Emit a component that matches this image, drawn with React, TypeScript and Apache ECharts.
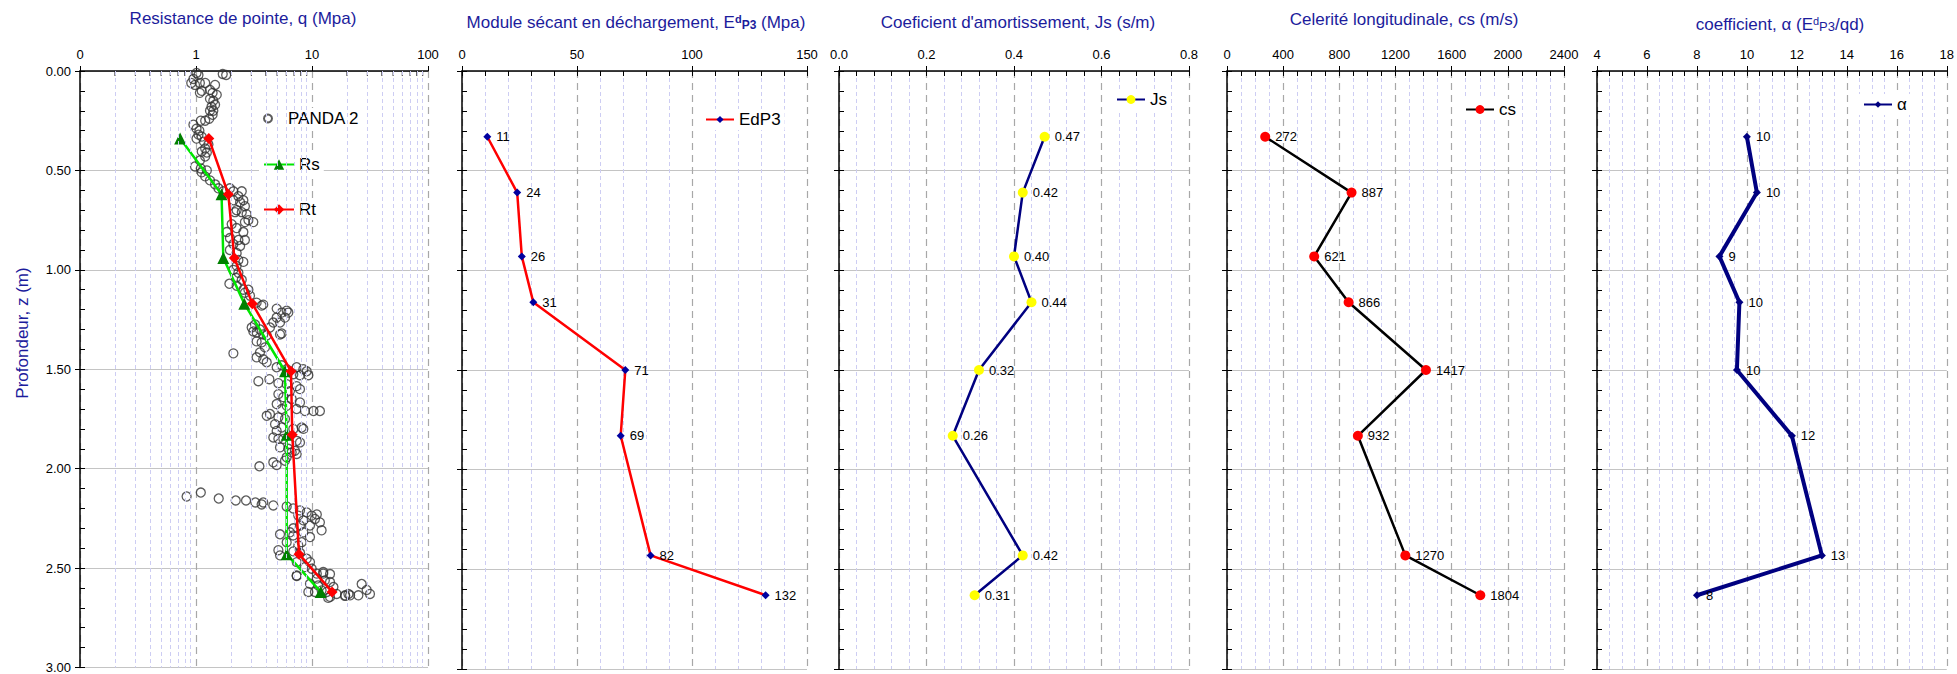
import React, { useEffect, useRef } from "react";
import * as echarts from "echarts";

const FONT = '"Liberation Sans", Arial, Helvetica, sans-serif';
const NAVY = "#1c1c9c";

// depths (m) of the dynamic-test points
const depths = [0.33, 0.61, 0.93, 1.16, 1.5, 1.83, 2.43, 2.63];
const rDepths = [0.34, 0.62, 0.94, 1.17, 1.51, 1.83, 2.43, 2.62];
const rsValues = [0.73, 1.66, 1.72, 2.61, 5.85, 6.05, 6.05, 11.9];
const rtValues = [1.29, 1.9, 2.14, 3.06, 6.59, 6.76, 7.73, 14.9];
const edp3Values = [11, 24, 26, 31, 71, 69, 82, 132];
const jsValues = [0.47, 0.42, 0.4, 0.44, 0.32, 0.26, 0.42, 0.31];
const csValues = [272, 887, 621, 866, 1417, 932, 1270, 1804];
const alphaValues = [10.0, 10.4, 8.9, 9.7, 9.6, 11.8, 13.0, 8.0];

const logMinorTicks = [0.2, 0.3, 0.4, 0.5, 0.6, 0.7, 0.8, 0.9, 2, 3, 4, 5, 6, 7, 8, 9, 20, 30, 40, 50, 60, 70, 80, 90];

// PANDA 2 penetrometer record: [q (MPa), z (m)]
const panda2: [number, number][] = [
  [1.01, 0.01], [1.05, 0.02], [1.7, 0.015], [1.82, 0.02], [0.95, 0.04], [0.91, 0.06], [0.98, 0.07], [1.08, 0.06], [1.2, 0.06], [1.46, 0.07],
  [1.32, 0.095], [1.12, 0.1], [1.39, 0.11], [1.51, 0.12], [1.08, 0.11], [1.32, 0.14], [1.41, 0.15], [1.46, 0.17], [1.36, 0.18], [1.41, 0.2],
  [1.32, 0.2], [1.39, 0.22], [1.3, 0.24], [1.2, 0.25], [1.1, 0.25], [0.95, 0.27], [1.01, 0.29], [1.07, 0.3], [1.05, 0.32], [1.12, 0.33],
  [1.01, 0.34], [1.17, 0.355], [1.28, 0.37], [1.2, 0.39], [1.12, 0.405], [1.24, 0.41], [1.2, 0.43], [1.08, 0.45], [0.98, 0.48], [1.1, 0.49],
  [1.24, 0.5], [1.12, 0.51], [1.2, 0.53], [1.32, 0.55], [1.46, 0.57], [1.56, 0.59], [1.72, 0.605], [1.96, 0.59], [2.1, 0.605], [2.48, 0.605],
  [2.32, 0.63], [2.56, 0.65], [2.1, 0.65], [2.4, 0.66], [2.64, 0.68], [2.24, 0.7], [2.17, 0.71], [2.48, 0.71], [2.73, 0.72], [2.83, 0.75],
  [2.64, 0.76], [3.12, 0.76], [2.03, 0.77], [2.24, 0.79], [2.56, 0.81], [1.84, 0.81], [1.96, 0.84], [2.32, 0.85], [2.64, 0.85], [2.1, 0.87],
  [2.4, 0.88], [1.96, 0.9], [2.24, 0.915], [2.32, 0.95], [2.56, 0.96], [2.24, 0.98], [2.1, 1.0], [2.32, 1.015], [1.94, 1.07], [2.21, 1.04],
  [2.48, 1.05], [2.24, 1.08], [2.56, 1.1], [2.64, 1.115], [2.83, 1.1], [2.92, 1.13], [3.33, 1.165], [3.68, 1.18], [3.8, 1.175], [4.96, 1.195],
  [5.48, 1.215], [6.05, 1.205], [5.85, 1.24], [4.96, 1.24], [5.3, 1.265], [6.25, 1.215], [3.23, 1.275], [3.02, 1.29], [3.56, 1.3], [4.34, 1.29],
  [3.33, 1.315], [4.07, 1.33], [5.3, 1.325], [4.64, 1.265],
  [3.12, 1.31], [3.8, 1.325], [5.48, 1.32], [3.33, 1.36], [3.68, 1.365], [3.93, 1.39], [2.1, 1.42], [3.56, 1.415], [3.33, 1.44], [3.8, 1.45],
  [4.07, 1.465], [4.96, 1.49], [5.48, 1.48], [6.05, 1.5], [7.38, 1.49], [8.42, 1.5], [9.0, 1.51], [9.3, 1.53], [7.88, 1.53], [6.9, 1.525],
  [3.45, 1.56], [4.29, 1.55], [5.13, 1.57], [6.05, 1.575], [7.38, 1.585], [7.88, 1.6], [6.46, 1.61], [5.13, 1.625], [5.66, 1.64], [6.68, 1.65],
  [7.88, 1.667], [8.7, 1.71], [10.3, 1.71], [11.7, 1.71], [7.38, 1.7], [6.05, 1.684], [4.96, 1.675], [5.48, 1.7], [4.07, 1.734], [4.34, 1.725],
  [5.13, 1.742], [5.85, 1.75], [4.8, 1.776], [5.48, 1.793], [8.42, 1.8], [8.15, 1.793], [6.9, 1.8], [4.96, 1.81], [4.64, 1.843], [5.13, 1.85],
  [5.66, 1.85], [6.46, 1.876], [7.38, 1.86], [7.88, 1.868], [5.3, 1.893], [6.25, 1.9], [7.13, 1.91], [6.05, 1.943], [6.68, 1.918], [7.38, 1.926],
  [4.64, 1.968], [3.52, 1.988], [4.96, 1.982], [5.85, 1.96],
  [0.83, 2.14], [1.1, 2.12], [1.57, 2.15], [2.2, 2.16], [2.7, 2.16], [3.25, 2.17], [3.68, 2.18], [3.8, 2.17], [4.64, 2.185], [6.05, 2.19],
  [6.9, 2.2], [7.88, 2.21], [9.0, 2.22], [11.0, 2.23],
  [7.62, 2.236], [8.42, 2.26], [9.94, 2.236], [10.6, 2.253], [11.7, 2.27], [9.61, 2.286], [7.88, 2.286], [6.9, 2.3], [12.1, 2.31], [6.46, 2.32],
  [8.42, 2.32], [5.3, 2.33], [6.9, 2.336], [9.61, 2.344], [8.15, 2.37], [6.05, 2.37], [7.62, 2.386], [5.13, 2.41], [6.9, 2.416], [7.88, 2.423],
  [5.3, 2.436], [9.0, 2.453], [7.38, 2.47], [9.61, 2.47], [8.7, 2.495], [9.94, 2.503], [7.38, 2.537], [11.0, 2.528], [12.5, 2.528], [11.0, 2.553],
  [12.9, 2.562], [9.61, 2.579], [11.3, 2.587], [14.3, 2.57], [15.3, 2.595], [13.4, 2.62], [12.1, 2.612], [10.6, 2.62], [16.3, 2.63], [14.3, 2.645],
  [19.3, 2.637], [20.6, 2.63], [21.3, 2.637], [25.1, 2.637], [26.8, 2.58], [29.6, 2.61], [31.6, 2.63], [13.8, 2.65], [9.3, 2.62], [7.38, 2.54],
  [19.3, 2.64], [12.5, 2.52], [14.3, 2.53]
];

const grids = [
  { left: 80, top: 71, width: 348, height: 598 },
  { left: 462, top: 71, width: 345, height: 598 },
  { left: 839, top: 71, width: 350, height: 598 },
  { left: 1227, top: 71, width: 337, height: 598 },
  { left: 1597, top: 71, width: 352, height: 598 },
];

function buildOption() {
  const axisLineStyle = { color: "#000", width: 1.5 };
  const tickStyle = { color: "#000", width: 1 };
  const majorGrid = { show: true, lineStyle: { color: "#a8a8a8", width: 1.2, type: [7, 5] } };
  const minorGrid = { show: true, lineStyle: { color: "#cdcdf3", width: 1, type: [4, 3] } };
  const tickLabel = { fontSize: 13, color: "#000", fontFamily: FONT, margin: 10 };

  const xAxes: any[] = [];
  const yAxes: any[] = [];

  // panel 1: log axis
  xAxes.push({
    gridIndex: 0, type: "log", logBase: 10, min: 0.1, max: 100, position: "top",
    axisLine: { show: true, onZero: false, lineStyle: axisLineStyle },
    axisTick: { show: true, length: 5, lineStyle: tickStyle },
    axisLabel: { ...tickLabel, formatter: (v: number) => (v < 1 ? "0" : String(Math.round(v))) },
    splitLine: majorGrid,
  });

  const valuePanel = (g: number, min: number, max: number, interval: number, minorSplit: number, fmt: (v: number) => string) => {
    const idx = xAxes.length;
    xAxes.push({
      gridIndex: g, type: "value", position: "top", min, max, interval,
      axisLine: { show: true, onZero: false, lineStyle: axisLineStyle },
      axisTick: { show: true, length: 5, lineStyle: tickStyle },
      axisLabel: { ...tickLabel, formatter: fmt },
      splitLine: majorGrid,
      minorTick: { show: false, splitNumber: minorSplit },
      minorSplitLine: minorGrid,
    });
    xAxes.push({
      gridIndex: g, type: "value", position: "top", min, max, interval: interval / minorSplit,
      axisLine: { show: false },
      axisTick: { show: true, inside: true, length: 5, lineStyle: tickStyle },
      axisLabel: { show: false },
      splitLine: { show: false },
    });
    return idx;
  };
  const x2 = valuePanel(1, 0, 150, 50, 5, (v) => String(v));
  const x3 = valuePanel(2, 0, 0.8, 0.2, 5, (v) => v.toFixed(1));
  const x4 = valuePanel(3, 0, 2400, 400, 4, (v) => String(v));
  const x5 = valuePanel(4, 4, 18, 2, 4, (v) => String(v));

  const yIdx: number[] = [];
  for (let g = 0; g < 5; g++) {
    yIdx.push(yAxes.length);
    yAxes.push({
      gridIndex: g, type: "value", min: 0, max: 3, interval: 0.5, inverse: true, position: "left",
      axisLine: { show: true, onZero: false, lineStyle: axisLineStyle },
      axisTick: { show: true, length: 5, lineStyle: tickStyle },
      axisLabel: { show: g === 0, fontSize: 13, color: "#000", fontFamily: FONT, margin: 9, formatter: (v: number) => v.toFixed(2) },
      splitLine: { show: true, lineStyle: { color: "#c4c4c4", width: 1.2 } },
    });
    yAxes.push({
      gridIndex: g, type: "value", min: 0, max: 3, interval: 0.1, inverse: true, position: "left",
      axisLine: { show: false },
      axisTick: { show: true, inside: true, length: 5, lineStyle: tickStyle },
      axisLabel: { show: false },
      splitLine: { show: false },
    });
  }

  const ptLabel = (fmt: (v: number) => string) => ({
    show: true, position: "right", distance: 5, fontSize: 13, color: "#000", fontFamily: FONT,
    formatter: (p: any) => fmt(p.value[0]),
  });

  const series: any[] = [
    {
      type: "scatter", name: "p1minor", xAxisIndex: 0, yAxisIndex: yIdx[0], silent: true, clip: false,
      data: logMinorTicks.map((v) => [v, 0]),
      symbol: "rect", symbolSize: [1, 5], symbolOffset: [0, 2.5], itemStyle: { color: "#000" }, z: 1,
      markLine: {
        silent: true, symbol: ["none", "none"], label: { show: false },
        lineStyle: { color: "#cdcdf3", width: 1, type: [4, 3] },
        data: logMinorTicks.map((v) => ({ xAxis: v })),
      },
    },
    {
      type: "scatter", name: "PANDA 2", xAxisIndex: 0, yAxisIndex: yIdx[0], data: panda2,
      symbol: "circle", symbolSize: 9,
      itemStyle: { color: "rgba(0,0,0,0)", borderColor: "#333", borderWidth: 1.3 }, z: 3,
    },
    {
      type: "line", name: "Rs", xAxisIndex: 0, yAxisIndex: yIdx[0],
      data: rDepths.map((z, i) => [rsValues[i], z]),
      symbol: "triangle", symbolSize: 12,
      lineStyle: { color: "#00e600", width: 2.5 }, itemStyle: { color: "#008000" }, z: 4,
    },
    {
      type: "line", name: "Rt", xAxisIndex: 0, yAxisIndex: yIdx[0],
      data: rDepths.map((z, i) => [rtValues[i], z]),
      symbol: "diamond", symbolSize: 11,
      lineStyle: { color: "#ff0000", width: 2.5 }, itemStyle: { color: "#ff0000" }, z: 5,
    },
    {
      type: "line", name: "EdP3", xAxisIndex: x2, yAxisIndex: yIdx[1],
      data: depths.map((z, i) => [edp3Values[i], z]),
      symbol: "diamond", symbolSize: 8,
      lineStyle: { color: "#ff0000", width: 2.5 }, itemStyle: { color: "#0000a0" },
      label: ptLabel((v) => String(Math.round(v))), z: 4,
    },
    {
      type: "line", name: "Js", xAxisIndex: x3, yAxisIndex: yIdx[2],
      data: depths.map((z, i) => [jsValues[i], z]),
      symbol: "circle", symbolSize: 10,
      lineStyle: { color: "#000080", width: 2.5 }, itemStyle: { color: "#ffff00" },
      label: ptLabel((v) => v.toFixed(2)), z: 4,
    },
    {
      type: "line", name: "cs", xAxisIndex: x4, yAxisIndex: yIdx[3],
      data: depths.map((z, i) => [csValues[i], z]),
      symbol: "circle", symbolSize: 10,
      lineStyle: { color: "#000000", width: 2.5 }, itemStyle: { color: "#ff0000" },
      label: ptLabel((v) => String(Math.round(v))), z: 4,
    },
    {
      type: "line", name: "α", xAxisIndex: x5, yAxisIndex: yIdx[4],
      data: depths.map((z, i) => [alphaValues[i], z]),
      symbol: "diamond", symbolSize: 8,
      lineStyle: { color: "#000080", width: 4 }, itemStyle: { color: "#000080" },
      label: ptLabel((v) => String(Math.round(v))), z: 4,
    },
  ];

  const leg = (name: string, left: number, top: number, itemWidth: number, itemHeight: number) => ({
    data: [name], left, top, itemWidth, itemHeight, orient: "vertical",
    backgroundColor: "#fff", padding: [2, 4], selectedMode: false,
    textStyle: { fontSize: 17, color: "#000", fontFamily: FONT },
  });

  const legends = [
    leg("PANDA 2", 259, 108, 30, 8),
    leg("Rs", 259, 154, 30, 13),
    leg("Rt", 259, 199, 30, 13),
    leg("EdP3", 701, 109, 28, 9),
    leg("Js", 1112, 89, 28, 11),
    leg("cs", 1461, 99, 28, 11),
    leg("α", 1859, 94, 28, 8),
  ];

  const titleText = (text: string, x: number, y: number, rich?: any) => ({
    type: "text", x, y, silent: true,
    style: {
      text, fill: NAVY, fontSize: 17, fontFamily: FONT,
      textAlign: "center", textVerticalAlign: "middle", align: "center", verticalAlign: "middle",
      rich,
    },
  });

  const graphic = [
    titleText("Resistance de pointe, q (Mpa)", 243, 18),
    titleText("Module sécant en déchargement, E{sup|d}{sub|P3} (Mpa)", 636, 22, {
      sup: { fontSize: 11, fontWeight: "bold", fill: NAVY, fontFamily: FONT, verticalAlign: "top" },
      sub: { fontSize: 12, fontWeight: "bold", fill: NAVY, fontFamily: FONT, verticalAlign: "bottom" },
    }),
    titleText("Coeficient d'amortissement, Js (s/m)", 1018, 22),
    titleText("Celerité longitudinale, cs (m/s)", 1404, 19),
    titleText("coefficient, α (E{sup|d}{sm|P3}/qd)", 1780, 24, {
      sup: { fontSize: 11, fill: NAVY, fontFamily: FONT, verticalAlign: "top" },
      sm: { fontSize: 13, fill: NAVY, fontFamily: FONT, verticalAlign: "bottom" },
    }),
    {
      type: "text", x: 22, y: 333, rotation: Math.PI / 2, silent: true,
      style: {
        text: "Profondeur, z (m)", fill: NAVY, fontSize: 17, fontFamily: FONT,
        textAlign: "center", textVerticalAlign: "middle", align: "center", verticalAlign: "middle",
      },
    },
  ];

  return {
    animation: false,
    backgroundColor: "#ffffff",
    textStyle: { fontFamily: FONT },
    grid: grids,
    xAxis: xAxes,
    yAxis: yAxes,
    legend: legends,
    series,
    graphic,
  };
}

export default function App() {
  const ref = useRef<HTMLDivElement>(null);
  useEffect(() => {
    if (!ref.current) return;
    const chart = echarts.init(ref.current, undefined, { renderer: "svg" });
    chart.setOption(buildOption() as any);
    return () => chart.dispose();
  }, []);
  return (
    <div
      ref={ref}
      style={{ position: "absolute", left: 0, top: 0, width: 1957, height: 674, background: "#fff" }}
    />
  );
}
